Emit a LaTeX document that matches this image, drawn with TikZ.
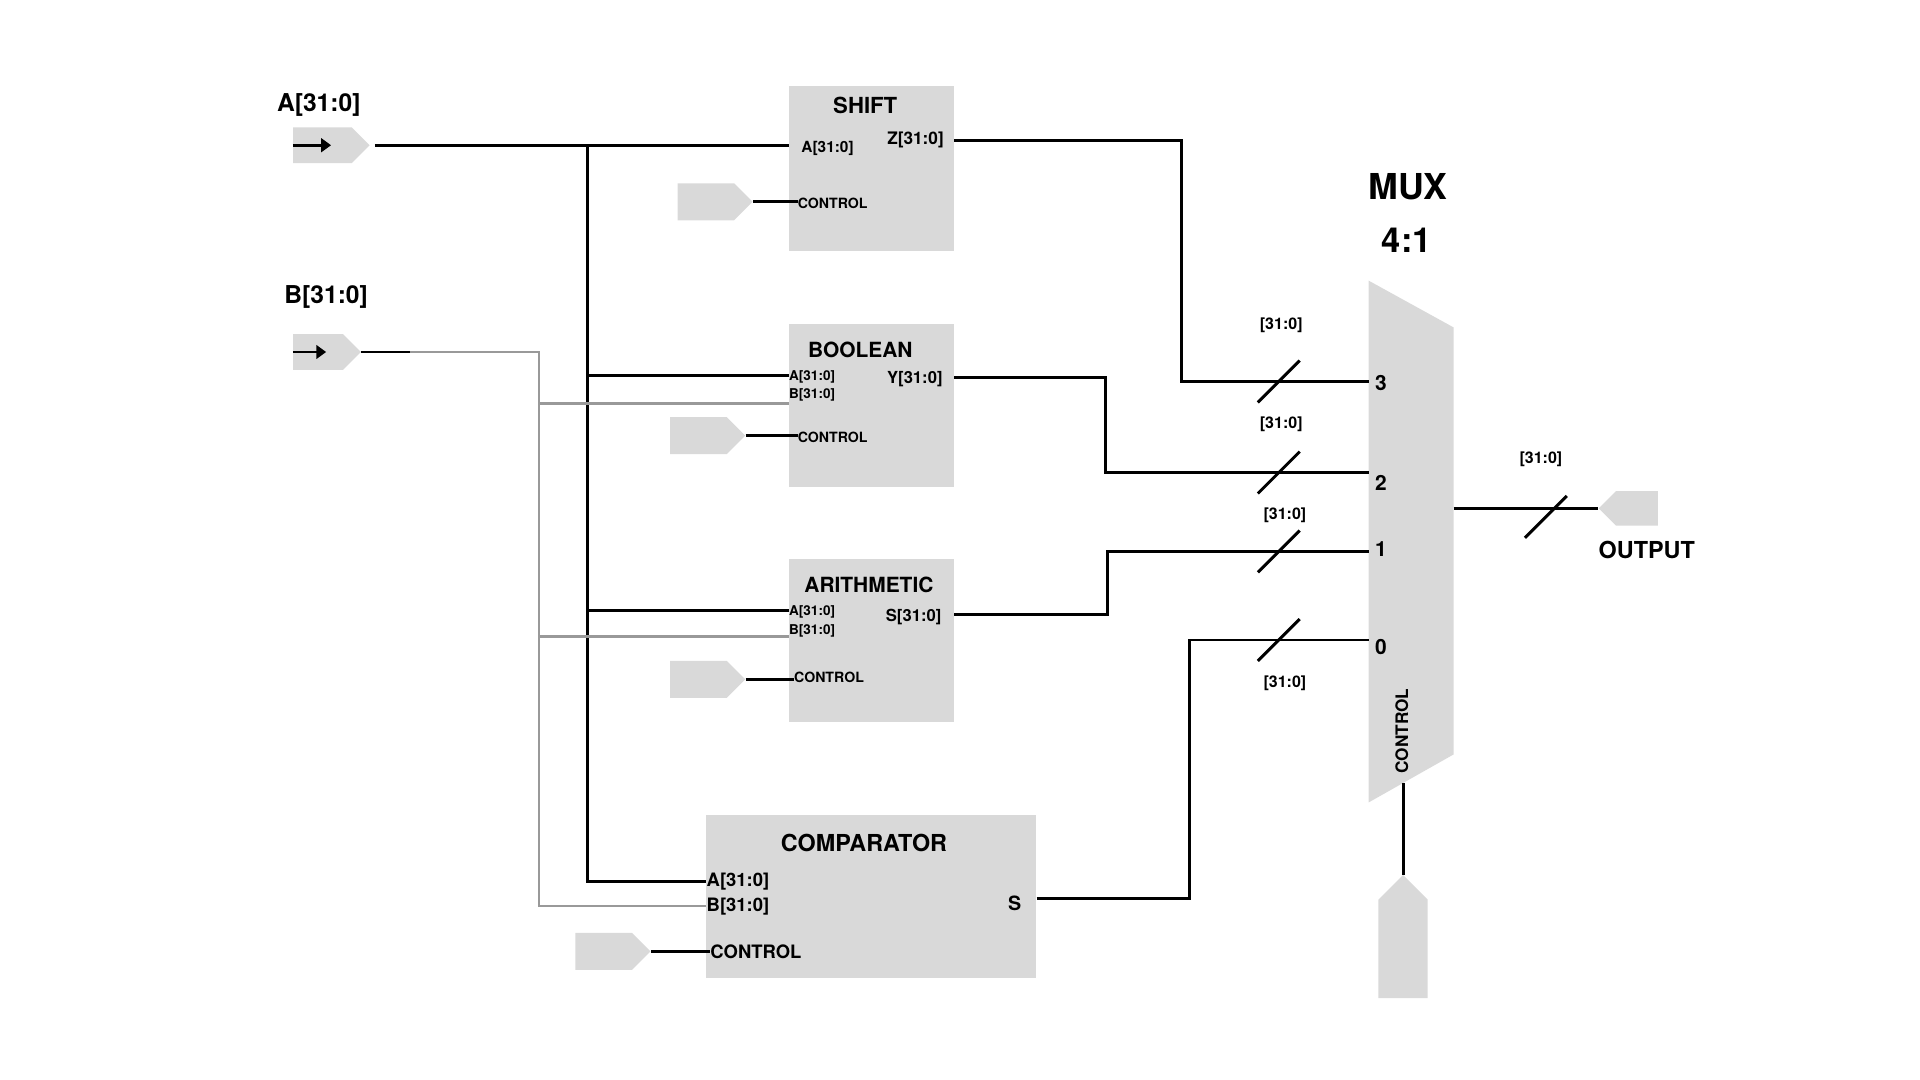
\documentclass[tikz,border=0pt]{standalone}
\usepackage{fontspec}
\setmainfont{TeX Gyre Heros}
\usetikzlibrary{calc}
\usetikzlibrary{shapes.symbols}
\usetikzlibrary{arrows.meta}
\definecolor{BlockGray}{HTML}{D9D9D9}
\definecolor{BusGray}{HTML}{999999}

\begin{document}
\begin{tikzpicture}[x=1pt,y=-1pt]
    \tikzstyle{blk}=[rectangle,fill=BlockGray,inner sep=0pt]
    \tikzstyle{pin}=[signal,fill=BlockGray,inner sep=0pt,signal pointer angle=90]
    \tikzstyle{wire}=[line width=2.4pt,black]
    \tikzstyle{gwire}=[line width=2pt,BusGray]
    \tikzstyle{big}=[font=\bfseries\fontsize{20}{22}\selectfont]
    \tikzstyle{port}=[font=\bfseries\fontsize{11.5}{13}\selectfont,inner sep=0pt]
    \tikzstyle{bus}=[font=\bfseries\fontsize{13}{15}\selectfont]
    \tikzstyle{num}=[font=\bfseries\fontsize{17}{19}\selectfont]

    \useasboundingbox (0,0) rectangle (1560,877.5);

    % input A
    \node[pin,signal to=east,minimum width=62pt,minimum height=29pt] (ina) at (262,118) {};
    \node[big] (ina_lbl) at (259,85) {A[31:0]};
    \coordinate (ina_arr) at (269,118);
    \draw[wire,-{Triangle[length=8pt,width=11pt]}] (ina.west) -- (ina_arr);

    % input B
    \node[pin,signal to=east,minimum width=55pt,minimum height=29pt] (inb) at (258.5,286) {};
    \node[big] (inb_lbl) at (265,241) {B[31:0]};
    \coordinate (inb_arr) at (265,286);
    \draw[wire,-{Triangle[length=8pt,width=11pt]}] (inb.west) -- (inb_arr);

    % shift
    \node[blk,minimum width=134pt,minimum height=134pt] (shift) at (708,137) {};
    \node[font=\bfseries\fontsize{18}{20}\selectfont] (shift_ttl) at (703,86) {SHIFT};
    \node[port,anchor=west,font=\bfseries\fontsize{12.5}{14}\selectfont] (shift_a) at (651,121) {A[31:0]};
    \node[port,anchor=east,font=\bfseries\fontsize{14}{16}\selectfont] (shift_z) at (767,114) {Z[31:0]};
    \node[port,anchor=west] (shift_c) at (648,165) {CONTROL};
    \node[pin,signal to=east,minimum width=61pt,minimum height=30pt] (shift_in) at (573.5,164) {};

    % boolean
    \node[blk,minimum width=134pt,minimum height=133pt] (bool) at (708,329.5) {};
    \node[font=\bfseries\fontsize{17}{19}\selectfont] (bool_ttl) at (699,284) {BOOLEAN};
    \node[port,anchor=west,font=\bfseries\fontsize{11}{12}\selectfont] (bool_a) at (641,306) {A[31:0]};
    \node[port,anchor=west,font=\bfseries\fontsize{11}{12}\selectfont] (bool_b) at (641,321) {B[31:0]};
    \node[port,anchor=east,font=\bfseries\fontsize{13.5}{15}\selectfont] (bool_y) at (766,308) {Y[31:0]};
    \node[port,anchor=west] (bool_c) at (648,355) {CONTROL};
    \node[pin,signal to=east,minimum width=61pt,minimum height=30pt] (bool_in) at (567.5,354) {};

    % arithmetic
    \node[blk,minimum width=134pt,minimum height=133pt] (arith) at (708,520.5) {};
    \node[font=\bfseries\fontsize{17}{19}\selectfont] (arith_ttl) at (706,475) {ARITHMETIC};
    \node[port,anchor=west,font=\bfseries\fontsize{11}{12}\selectfont] (arith_a) at (641,497) {A[31:0]};
    \node[port,anchor=west,font=\bfseries\fontsize{11}{12}\selectfont] (arith_b) at (641,513) {B[31:0]};
    \node[port,anchor=east,font=\bfseries\fontsize{13.5}{15}\selectfont] (arith_s) at (765,501) {S[31:0]};
    \node[port,anchor=west] (arith_c) at (645,550) {CONTROL};
    \node[pin,signal to=east,minimum width=61pt,minimum height=30pt] (arith_in) at (567.5,552) {};

    % comparator
    \node[blk,minimum width=268pt,minimum height=133pt] (comp) at (708,728.5) {};
    \node[font=\bfseries\fontsize{19}{21}\selectfont] (comp_ttl) at (702,685) {COMPARATOR};
    \node[port,anchor=west,font=\bfseries\fontsize{15}{17}\selectfont] (comp_a) at (574,716) {A[31:0]};
    \node[port,anchor=west,font=\bfseries\fontsize{15}{17}\selectfont] (comp_b) at (574,737) {B[31:0]};
    \node[port,anchor=east,font=\bfseries\fontsize{16}{18}\selectfont] (comp_s) at (830,734) {S};
    \node[port,anchor=west,font=\bfseries\fontsize{15}{17}\selectfont] (comp_c) at (577,773) {CONTROL};
    \node[pin,signal to=east,minimum width=61pt,minimum height=30pt] (comp_in) at (490.5,773) {};

    % mux
    \coordinate (mux_tl) at (1112,228);
    \coordinate (mux_tr) at (1181,266);
    \coordinate (mux_br) at (1181,613);
    \coordinate (mux_bl) at (1112,652);
    \fill[BlockGray] (mux_tl) -- (mux_tr) -- (mux_br) -- (mux_bl) -- cycle;
    \node[font=\bfseries\fontsize{29}{31}\selectfont] (mux_ttl) at (1144,152) {MUX};
    \node[font=\bfseries\fontsize{28}{30}\selectfont] (mux_ratio) at (1143,195) {4:1};
    \coordinate (mux3) at (1112,310);
    \coordinate (mux2) at (1112,384);
    \coordinate (mux1) at (1112,448);
    \coordinate (mux0) at (1112,520);
    \node[num] (mux3_lbl) at (1122,311) {3};
    \node[num] (mux2_lbl) at (1122,392) {2};
    \node[num] (mux1_lbl) at (1122,446) {1};
    \node[num] (mux0_lbl) at (1122,526) {0};
    \node[font=\bfseries\fontsize{14}{16}\selectfont,rotate=90] (mux_c) at (1139,594) {CONTROL};
    \coordinate (mux_out) at (1181,413);
    \coordinate (mux_ctl) at (1140,636);

    % output
    \node[pin,signal to=west,minimum width=48pt,minimum height=28pt] (out) at (1330,413) {};
    \node[font=\bfseries\fontsize{19}{21}\selectfont] (out_lbl) at (1338,447) {OUTPUT};
    \node[pin,signal to=north,minimum width=40pt,minimum height=80pt] (mux_in) at (1140,771) {};

    % A bus
    \coordinate (abus) at (477,118);
    \draw[wire] (ina.east) ++(4,0) -- (shift.west |- ina.east);
    \draw[wire] (abus) |- (comp.west |- comp_a);
    \draw[wire] (abus |- bool_a) ++(0,-1) -- ($(bool.west |- bool_a)+(0,-1)$);
    \draw[wire] (abus |- arith_a) ++(0,-1) -- ($(arith.west |- arith_a)+(0,-1)$);

    % B bus
    \coordinate (bsplit) at (333,286);
    \coordinate (bbus) at (438,286);
    \draw[wire] (inb.east) -- (bsplit);
    \draw[gwire] (bsplit) -- (bbus) |- ($(comp.west |- comp_b)+(0,-1)$);
    \draw[gwire] (bbus |- bool_b) ++(0,7) -- ($(bool.west |- bool_b)+(0,7)$);
    \draw[gwire] (bbus |- arith_b) ++(0,4) -- ($(arith.west |- arith_b)+(0,4)$);

    % controls
    \draw[wire] (shift_in.east) -- (shift_in.east -| shift_c.west);
    \draw[wire] (bool_in.east) -- (bool_in.east -| bool_c.west);
    \draw[wire] (arith_in.east) -- (arith_in.east -| arith_c.west);
    \draw[wire] (comp_in.east) -- (comp_in.east -| comp_c.west);

    % outputs to mux
    \draw[wire] (shift.east |- shift_z) -- ++(185,0) |- (mux3);
    \draw[wire] (bool.east |- bool_y) ++(0,-1) -- ++(123,0) |- (mux2);
    \draw[wire] (arith.east |- arith_s) ++(0,-2) -- ++(125,0) |- (mux1);
    \draw[wire] (comp.east |- comp_s) ++(0,-4) -- ++(124,0) |- (mux0);
    \draw[wire] (mux_out) -- (out.west);
    \draw[wire] (mux_ctl) -- (mux_in.north);

    % bus marks
    \foreach \p in {mux3,mux2,mux1,mux0}
        \draw[wire] ($(\p)+(-90,17)$) -- ++(34,-34);
    \draw[wire] ($(mux_out)+(58,24)$) -- ++(34,-34);
    \node[bus] (bus3) at (1041,264) {[31:0]};
    \node[bus] (bus2) at (1041,345) {[31:0]};
    \node[bus] (bus1) at (1044,419) {[31:0]};
    \node[bus] (bus0) at (1044,555) {[31:0]};
    \node[bus] (busout) at (1252,373) {[31:0]};

\end{tikzpicture}
\end{document}
